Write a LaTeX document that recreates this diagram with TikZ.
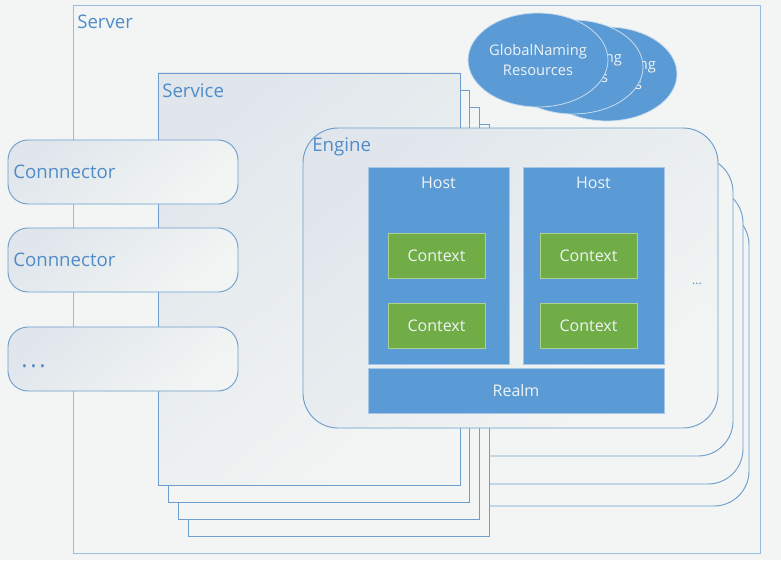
\documentclass[tikz,border=0pt]{standalone}
\usepackage{fontspec}
\setmainfont{Open Sans}
\usetikzlibrary{shapes.geometric}
\definecolor{paper}{RGB}{242,245,243}
\definecolor{shadeA}{RGB}{224,230,236}
\definecolor{linec}{RGB}{110,158,205}
\definecolor{serverc}{RGB}{150,188,222}
\definecolor{textc}{RGB}{80,140,200}
\definecolor{hostc}{RGB}{91,155,213}
\definecolor{hostedge}{RGB}{165,198,228}
\definecolor{ctxc}{RGB}{112,173,71}
\definecolor{ctxedge}{RGB}{172,210,146}
\definecolor{lighttext}{RGB}{240,243,246}

\begin{document}
\begin{tikzpicture}[x=0.75pt, y=-0.75pt,
    every node/.style={inner sep=0pt},
    frame/.style={draw=linec, line width=0.7pt, fill=paper},
    shadedframe/.style={draw=linec, line width=0.7pt, top color=shadeA, bottom color=paper, shading angle=40},
    engineframe/.style={rounded corners=26.25pt},
    connframe/.style={shadedframe, rounded corners=15pt},
    title/.style={anchor=west, text=textc, font=\fontsize{14}{16}\selectfont},
    hostbox/.style={draw=hostedge, line width=0.5pt, fill=hostc},
    ctxbox/.style={draw=ctxedge, line width=0.6pt, fill=ctxc},
    inner/.style={text=lighttext, font=\fontsize{12}{14}\selectfont},
    gnr/.style={ellipse, draw=hostedge!60!white, line width=0.6pt, fill=hostc,
      minimum width=105pt, minimum height=70.5pt, text=lighttext, align=center,
      font=\fontsize{11}{15}\selectfont}]
  \useasboundingbox[fill=paper] (0,0) rectangle (781,560);

  \draw[draw=serverc, line width=0.7pt, fill=paper] (73,5) rectangle (760,553);
  \node[title] (server) at (77,22) {Server};

  \node[gnr] (gnr3) at (607,74) {GlobalNaming\\Resources};
  \node[gnr] (gnr2) at (573,67) {GlobalNaming\\Resources};
  \node[gnr] (gnr1) at (538,60) {GlobalNaming\\Resources};

  \draw[frame, engineframe] (334,210) rectangle (749,506);
  \draw[frame, engineframe] (328,188) rectangle (743,484);
  \draw[frame, engineframe] (318,157) rectangle (733,456);

  \draw[frame] (188,124) rectangle (489,536);
  \draw[frame] (178,107) rectangle (479,519);
  \draw[frame] (168,90) rectangle (469,502);
  \draw[shadedframe] (158,73) rectangle (460,485);
  \node[title] (service) at (162,91) {Service};

  \draw[shadedframe, engineframe] (303,128) rectangle (718,428);
  \node[title] (engine) at (312,147) {Engine};
  \node[text=textc, font=\fontsize{9}{10}\selectfont] (enginemore) at (697,284) {...};

  \draw[hostbox] (368,167) rectangle (509,364);
  \draw[hostbox] (523,167) rectangle (664,364);
  \draw[hostbox] (368,368) rectangle (664,413);
  \node[inner] (host1) at (438.5,183) {Host};
  \node[inner] (host2) at (593.5,183) {Host};
  \node[inner] (realm) at (516,390) {Realm};

  \draw[ctxbox] (388,233) rectangle (485,278);
  \draw[ctxbox] (388,303) rectangle (485,348);
  \draw[ctxbox] (540,233) rectangle (637,278);
  \draw[ctxbox] (540,303) rectangle (637,348);
  \node[inner] (ctx11) at (436.5,255.5) {Context};
  \node[inner] (ctx12) at (436.5,325.5) {Context};
  \node[inner] (ctx21) at (588.5,255.5) {Context};
  \node[inner] (ctx22) at (588.5,325.5) {Context};

  \draw[connframe] (8,140) rectangle (238,204);
  \draw[connframe] (8,228) rectangle (238,292);
  \draw[connframe] (8,327) rectangle (238,391);
  \node[title] (conn1) at (13,172) {Connnector};
  \node[title] (conn2) at (13,260) {Connnector};
  \node[title, font=\fontsize{18}{20}\selectfont] (connmore) at (21,366) {.\hspace{2pt}.\hspace{2pt}.};
\end{tikzpicture}
\end{document}
